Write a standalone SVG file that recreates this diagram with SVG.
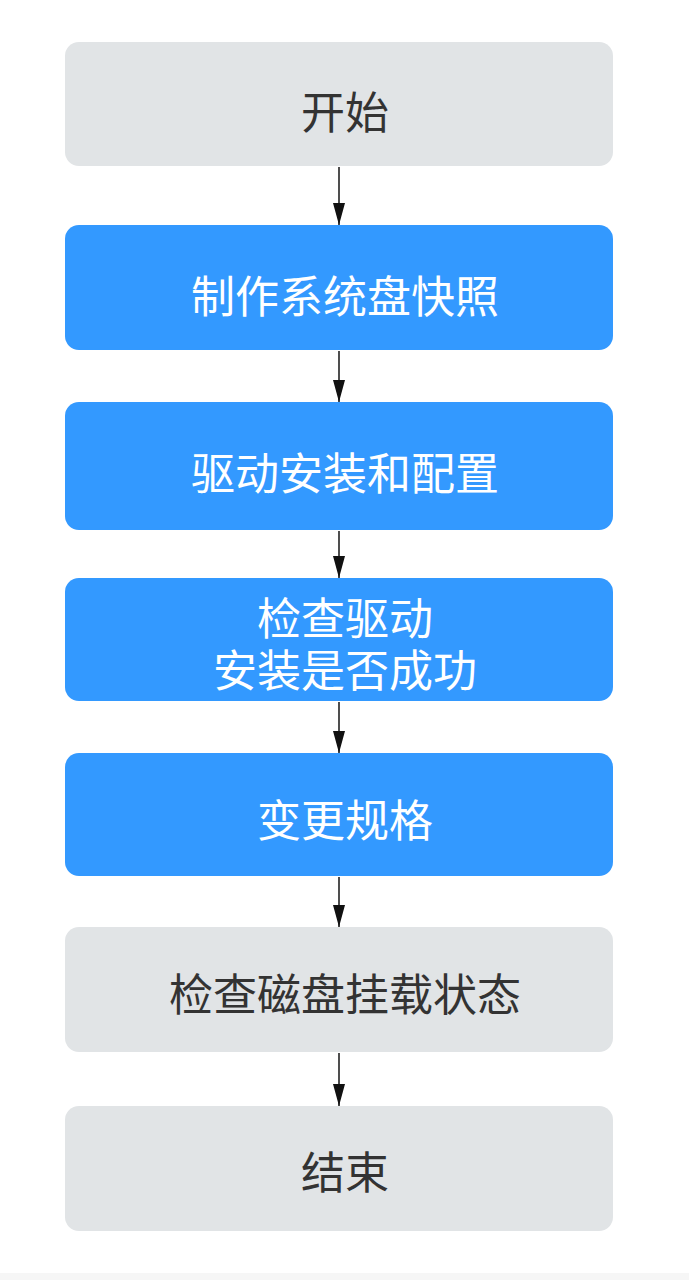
<svg xmlns="http://www.w3.org/2000/svg" width="689" height="1280" viewBox="0 0 689 1280">
<style>
.g{fill:#e1e4e6}
.b{fill:#3399ff}
.t{font-family:"Noto Sans CJK SC","Noto Sans",sans-serif;font-size:44px;text-anchor:middle}
.tg{fill:#333333}
.tb{fill:#ffffff}
.c{stroke:#222222;stroke-width:1.6;fill:none;marker-end:url(#ah)}
</style>
<defs>
<marker id="ah" markerUnits="userSpaceOnUse" markerWidth="22" markerHeight="12" refX="22" refY="6" orient="auto" viewBox="0 0 22 12">
<path d="M0,0 L22,6 L0,12 Z" fill="#111111"/>
</marker>
</defs>
<rect x="0" y="0" width="689" height="1280" fill="#ffffff"/>
<rect x="0" y="1273" width="689" height="7" fill="#f6f6f6"/>
<g id="connectors">
<line class="c" x1="339" y1="167" x2="339" y2="225"/>
<line class="c" x1="339" y1="351" x2="339" y2="402"/>
<line class="c" x1="339" y1="531" x2="339" y2="578"/>
<line class="c" x1="339" y1="702" x2="339" y2="753"/>
<line class="c" x1="339" y1="877" x2="339" y2="927"/>
<line class="c" x1="339" y1="1053" x2="339" y2="1106"/>
</g>
<g id="n1"><rect class="g" x="65" y="42" width="548" height="124" rx="14"/><text class="t tg" x="345" y="129">开始</text></g>
<g id="n2"><rect class="b" x="65" y="225" width="548" height="125" rx="14"/><text class="t tb" x="345" y="313">制作系统盘快照</text></g>
<g id="n3"><rect class="b" x="65" y="402" width="548" height="128" rx="14"/><text class="t tb" x="345" y="490">驱动安装和配置</text></g>
<g id="n4"><rect class="b" x="65" y="578" width="548" height="123" rx="14"/><text class="t tb"><tspan x="345" y="635">检查驱动</tspan><tspan x="345" y="687">安装是否成功</tspan></text></g>
<g id="n5"><rect class="b" x="65" y="753" width="548" height="123" rx="14"/><text class="t tb" x="345" y="837">变更规格</text></g>
<g id="n6"><rect class="g" x="65" y="927" width="548" height="125" rx="14"/><text class="t tg" x="345" y="1011">检查磁盘挂载状态</text></g>
<g id="n7"><rect class="g" x="65" y="1106" width="548" height="125" rx="14"/><text class="t tg" x="345" y="1189">结束</text></g>
</svg>
